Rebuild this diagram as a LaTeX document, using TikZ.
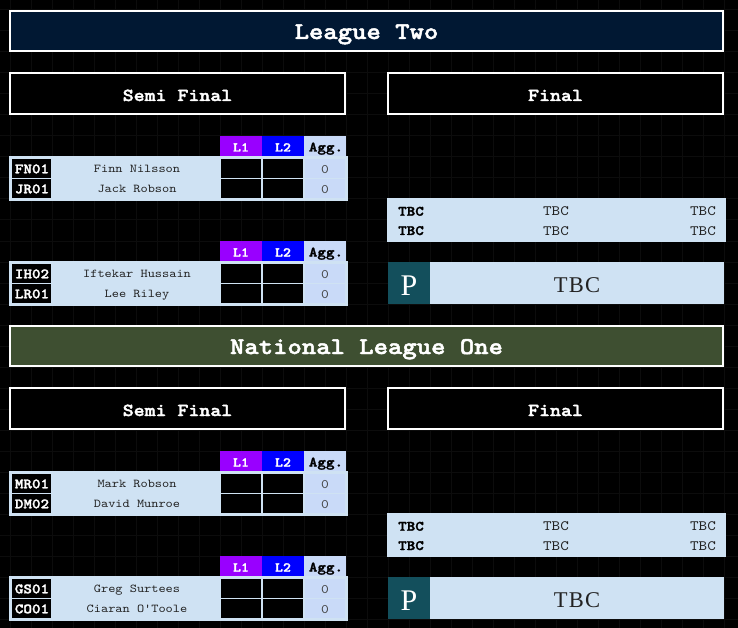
\documentclass[tikz,border=0pt]{standalone}
\usepackage{fontspec}
\setmainfont{Liberation Serif}
\newfontfamily\monof{lmmono10-regular}[Extension=.otf,UprightFont=lmmono10-regular,BoldFont=lmmonolt10-bold,FakeStretch=1.14,BoldFeatures={FakeBold=2}]
\definecolor{navy}{HTML}{011833}
\definecolor{olive}{HTML}{3E4F31}
\definecolor{lblue}{HTML}{CFE2F3}
\definecolor{aggblue}{HTML}{C9DAF8}
\definecolor{purp}{HTML}{9900FF}
\definecolor{blu}{HTML}{0000FF}
\definecolor{teal2}{HTML}{134F5C}
\definecolor{gridc}{HTML}{0C0C0C}
\definecolor{txt}{HTML}{222222}
\definecolor{zerotxt}{HTML}{444444}
\newcommand\cell[6]{\node[box,#6,minimum width={((#4)-(#2))*1pt},minimum height={((#5)-(#3))*1pt}] (#1) at ({((#2)+(#4))/2},{((#3)+(#5))/2}) {};}
\newcommand\matchblock[6]{%
  \cell{#1hL1}{220}{136+#2}{262}{156+#2}{fill=purp}
  \cell{#1hL2}{262}{136+#2}{304}{156+#2}{fill=blu}
  \cell{#1hAgg}{304}{136+#2}{346}{156+#2}{fill=aggblue}
  \node[lbl,hdrtxt] (#1tL1) at (241,151.5+#2) {L1};
  \node[lbl,hdrtxt] (#1tL2) at (283,151.5+#2) {L2};
  \node[lbl,aggtxt] (#1tAgg) at (326,151.5+#2) {Agg.};
  \cell{#1box}{9}{156+#2}{348}{201+#2}{fill=lblue}
  \cell{#1c1}{12}{159+#2}{51}{178+#2}{fill=black}
  \cell{#1c2}{12}{179+#2}{51}{198+#2}{fill=black}
  \node[lbl,codetxt] (#1tc1) at (32,173.3+#2) {#3};
  \node[lbl,codetxt] (#1tc2) at (32,193.3+#2) {#5};
  \node[lbl,nametxt] (#1n1) at (137,172.7+#2) {#4};
  \node[lbl,nametxt] (#1n2) at (137,192.7+#2) {#6};
  \cell{#1a1}{221}{159+#2}{261}{178+#2}{fill=black}
  \cell{#1a2}{221}{179+#2}{261}{198+#2}{fill=black}
  \cell{#1b1}{263}{159+#2}{303}{178+#2}{fill=black}
  \cell{#1b2}{263}{179+#2}{303}{198+#2}{fill=black}
  \cell{#1g1}{305}{159+#2}{345}{178+#2}{fill=aggblue}
  \cell{#1g2}{305}{179+#2}{345}{198+#2}{fill=aggblue}
  \node[lbl,zerotxtst] (#1z1) at (325,173.3+#2) {0};
  \node[lbl,zerotxtst] (#1z2) at (325,193.3+#2) {0};
}
\newcommand\finalblock[2]{%
  \cell{#1box}{387}{198+#2}{726}{242+#2}{fill=lblue}
  \node[lbl,tbcbold] (#1l1) at (411,215.7+#2) {TBC};
  \node[lbl,tbcreg] (#1m1) at (556,215.7+#2) {TBC};
  \node[lbl,tbcreg] (#1r1) at (703,215.7+#2) {TBC};
  \node[lbl,tbcbold] (#1l2) at (411,235+#2) {TBC};
  \node[lbl,tbcreg] (#1m2) at (556,235.7+#2) {TBC};
  \node[lbl,tbcreg] (#1r2) at (703,235.7+#2) {TBC};
  \cell{#1P}{388}{262+#2}{430}{304+#2}{fill=teal2}
  \cell{#1W}{430}{262+#2}{724}{304+#2}{fill=lblue}
  \node[lbl,text=white,font=\fontsize{30}{30}\selectfont] (#1tP) at (409,295+#2) {P};
  \node[lbl,text=txt,font=\fontsize{22.5}{22.5}\selectfont] (#1tW) at (577,292.3+#2) {T\kern1.2pt B\kern1.2pt C};
}
\begin{document}
\begin{tikzpicture}[x=1pt,y=-1pt,
  box/.style={inner sep=0pt,outer sep=0pt,anchor=center},
  lbl/.style={inner sep=0pt,outer sep=0pt,anchor=base},
  titlebox/.style={draw=white,line width=2pt},
  titletxt/.style={text=white,font=\monof\bfseries\fontsize{24}{24}\selectfont},
  subbox/.style={draw=white,line width=2pt,fill=black},
  subtxt/.style={text=white,font=\monof\bfseries\fontsize{18.3}{18}\selectfont},
  hdrtxt/.style={text=white,font=\monof\bfseries\fontsize{13.3}{14}\selectfont},
  aggtxt/.style={text=black,font=\monof\bfseries\fontsize{14.3}{14}\selectfont},
  codetxt/.style={text=white,font=\monof\bfseries\fontsize{14.3}{14}\selectfont},
  nametxt/.style={text=txt,font=\monof\fontsize{12}{12}\selectfont},
  zerotxtst/.style={text=zerotxt,font=\monof\fontsize{13}{13}\selectfont},
  tbcbold/.style={text=black,font=\monof\bfseries\fontsize{14.3}{14}\selectfont},
  tbcreg/.style={text=txt,font=\monof\fontsize{14.3}{14}\selectfont},
]
\fill[black] (0,0) rectangle (738,628);
\useasboundingbox (0,0) rectangle (738,628);
\foreach \i in {0,...,34} \draw[gridc,line width=1pt] (10+21*\i,0) -- (10+21*\i,628);
\foreach \i in {0,...,29} \draw[gridc,line width=1pt] (0,10+21*\i) -- (738,10+21*\i);
% League Two
\cell{lt}{10}{11}{723}{51}{titlebox,fill=navy}
\node[lbl,titletxt] (ltt) at (366.5,39) {League Two};
\cell{ltsemi}{10}{73}{345}{114}{subbox}
\node[lbl,subtxt] (ltsemit) at (177.5,101) {Semi Final};
\cell{ltfinal}{388}{73}{723}{114}{subbox}
\node[lbl,subtxt] (ltfinalt) at (555.5,101) {Final};
\matchblock{ma}{0}{FN01}{Finn Nilsson}{JR01}{Jack Robson}
\matchblock{mb}{105}{IH02}{Iftekar Hussain}{LR01}{Lee Riley}
\finalblock{fa}{0}
% National League One
\cell{nl}{10}{326}{723}{366}{titlebox,fill=olive}
\node[lbl,titletxt] (nlt) at (366.5,354) {National League One};
\cell{nlsemi}{10}{388}{345}{429}{subbox}
\node[lbl,subtxt] (nlsemit) at (177.5,416) {Semi Final};
\cell{nlfinal}{388}{388}{723}{429}{subbox}
\node[lbl,subtxt] (nlfinalt) at (555.5,416) {Final};
\matchblock{mc}{315}{MR01}{Mark Robson}{DM02}{David Munroe}
\matchblock{md}{420}{GS01}{Greg Surtees}{CO01}{Ciaran O'Toole}
\finalblock{fb}{315}
\end{tikzpicture}
\end{document}
